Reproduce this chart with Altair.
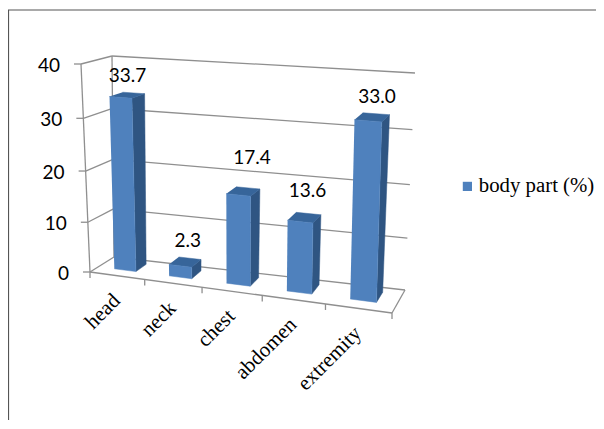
import altair as alt
import pandas as pd

categories = ["head", "neck", "chest", "abdomen", "extremity"]
values = [33.7, 2.3, 17.4, 13.6, 33.0]
value_labels = ["33.7", "2.3", "17.4", "13.6", "33.0"]
y_ticks = [0, 10, 20, 30, 40]
series_name = "body part (%)"

# hand placed label offsets of the original (px from the top of each bar)
label_dx = [-6, -2, 4, -1, 1]
label_dy = [-17, -17, -30, -23, -17]

W, H = 588, 412
# projected box corners, in page pixels: (front/back)(bottom/top)(left/right)
FBL, FTL, FBR, FTR = (90, 272), (81, 64), (392, 313), (398, 88)
BBL, BTL, BBR, BTR = (114, 257), (112, 56), (405, 290), (415, 73)
K_U, K_V = 1.13, 1.06
D0, D1, HALF = 0.35, 0.80, 0.2


def axis_expr(a):
    def lerp(p, q, r, s):
        return (f"((1-datum.V)*((1-datum.U)*{p[a]}+datum.U*{q[a]})"
                f"+datum.V*((1-datum.U)*{r[a]}+datum.U*{s[a]}))")
    return (f"(1-datum.d)*{lerp(FBL, FBR, FTL, FTR)}+datum.d*{lerp(BBL, BBR, BTL, BTR)}"
            f"+datum.{'ox' if a == 0 else 'oy'}")


def project(chart):
    return chart.transform_calculate(
        U=f"(datum.u/5)/((datum.u/5)+{K_U}*(1-datum.u/5))",
        V=f"(datum.v/40)/((datum.v/40)+{K_V}*(1-datum.v/40))",
    ).transform_calculate(px=axis_expr(0), py=axis_expr(1))


X = alt.X("px:Q", axis=None, scale=alt.Scale(domain=[8, 8 + W], nice=False, zero=False))
Y = alt.Y("py:Q", axis=None, scale=alt.Scale(domain=[8, 8 + H], reverse=True, nice=False, zero=False))

# ---- frame lines, walls, floor, ticks
rows = []


def seg(name, a, b, ox=0, oy=0, ox2=None, oy2=None):
    rows.append(dict(id=name, seq=0, u=a[0], d=a[1], v=a[2], ox=ox, oy=oy))
    rows.append(dict(id=name, seq=1, u=b[0], d=b[1], v=b[2],
                     ox=ox if ox2 is None else ox2, oy=oy if oy2 is None else oy2))


for t in y_ticks:
    seg(f"back{t}", (0, 1, t), (5, 1, t))
    seg(f"side{t}", (0, 0, t), (0, 1, t))
    seg(f"ytick{t}", (0, 0, t), (0, 0, t), ox=0, ox2=-7)
seg("front", (0, 0, 0), (5, 0, 0))
seg("right", (5, 0, 0), (5, 1, 0))
seg("axis", (0, 0, 0), (0, 0, 40))
seg("backleft", (0, 1, 0), (0, 1, 40))
for i in range(len(categories) + 1):
    seg(f"xtick{i}", (i, 0, 0), (i, 0, 0), oy=0, oy2=6)
lines_df = pd.DataFrame(rows)

grid = project(alt.Chart(lines_df)).mark_line(color="#8f8f8f", strokeWidth=1.3).encode(
    x=X, y=Y, detail="id:N", order="seq:Q")

# ---- bars
front, side, top = [], [], []
for i, (c, v) in enumerate(zip(categories, values)):
    u0, u1 = i + 0.5 - HALF, i + 0.5 + HALF
    for seq, (u, d, w) in enumerate([(u0, D0, 0), (u1, D0, 0), (u1, D0, v), (u0, D0, v)]):
        front.append(dict(cat=c, seq=seq, u=u, d=d, v=w, ox=0, oy=0, series=series_name))
    for seq, (u, d, w) in enumerate([(u1, D0, 0), (u1, D1, 0), (u1, D1, v), (u1, D0, v)]):
        side.append(dict(cat=c, seq=seq, u=u, d=d, v=w, ox=0, oy=0))
    for seq, (u, d, w) in enumerate([(u0, D0, v), (u1, D0, v), (u1, D1, v), (u0, D1, v)]):
        top.append(dict(cat=c, seq=seq, u=u, d=d, v=w, ox=0, oy=0))

side_layer = project(alt.Chart(pd.DataFrame(side))).mark_line(
    fill="#2f5582", stroke="#2f5582", strokeWidth=0.5).encode(x=X, y=Y, detail="cat:N", order="seq:Q")
top_layer = project(alt.Chart(pd.DataFrame(top))).mark_line(
    fill="#37659a", stroke="#37659a", strokeWidth=0.5).encode(x=X, y=Y, detail="cat:N", order="seq:Q")
front_layer = project(alt.Chart(pd.DataFrame(front))).mark_line(
    stroke="#4f81bd", strokeWidth=0.5).encode(
    x=X, y=Y, detail="cat:N", order="seq:Q",
    fill=alt.Fill("series:N", scale=alt.Scale(domain=[series_name], range=["#4f81bd"]),
                  legend=alt.Legend(title=None, orient="none", legendX=449, legendY=168,
                                    symbolType="square", symbolSize=85, symbolStrokeWidth=0,
                                    labelFont="Liberation Serif", labelFontSize=20.8, labelColor="#000",
                                    labelOffset=1, labelLimit=200)))

# ---- text
value_df = pd.DataFrame(dict(
    txt=value_labels, u=[i + 0.5 for i in range(len(values))], d=D1, v=values,
    ox=label_dx, oy=label_dy))
value_text = project(alt.Chart(value_df)).mark_text(
    font="Lato", fontSize=19, color="#000", align="center", baseline="middle").encode(
    x=X, y=Y, text="txt:N")

cat_df = pd.DataFrame(dict(
    txt=categories, u=[i + 0.5 for i in range(len(categories))], d=0.0, v=0.0, ox=0, oy=22))
cat_text = project(alt.Chart(cat_df)).mark_text(
    font="Liberation Serif", fontSize=21, color="#000", align="right", baseline="middle", angle=315).encode(
    x=X, y=Y, text="txt:N")

ytick_df = pd.DataFrame(dict(txt=[str(t) for t in y_ticks], u=0.0, d=0.0, v=y_ticks, ox=-21, oy=2))
ytick_text = project(alt.Chart(ytick_df)).mark_text(
    font="Lato", fontSize=19, color="#000", align="right", baseline="middle").encode(
    x=X, y=Y, text="txt:N")

frame_left = alt.Chart(pd.DataFrame({"a": [0]})).mark_rule(color="#555", strokeWidth=1.2).encode(
    x=alt.value(0.5), y=alt.value(2), y2=alt.value(H))
frame_top = alt.Chart(pd.DataFrame({"a": [0]})).mark_rule(color="#555", strokeWidth=1.2).encode(
    x=alt.value(0), x2=alt.value(W), y=alt.value(2))

chart = alt.layer(
    frame_left, frame_top, grid, side_layer, top_layer, front_layer, value_text, cat_text, ytick_text
).properties(
    width=W, height=H, padding=0, autosize=alt.AutoSizeParams(type="none")
).configure_view(stroke=None)

chart.save("out.html", embed_options={"renderer": "svg", "actions": False})
